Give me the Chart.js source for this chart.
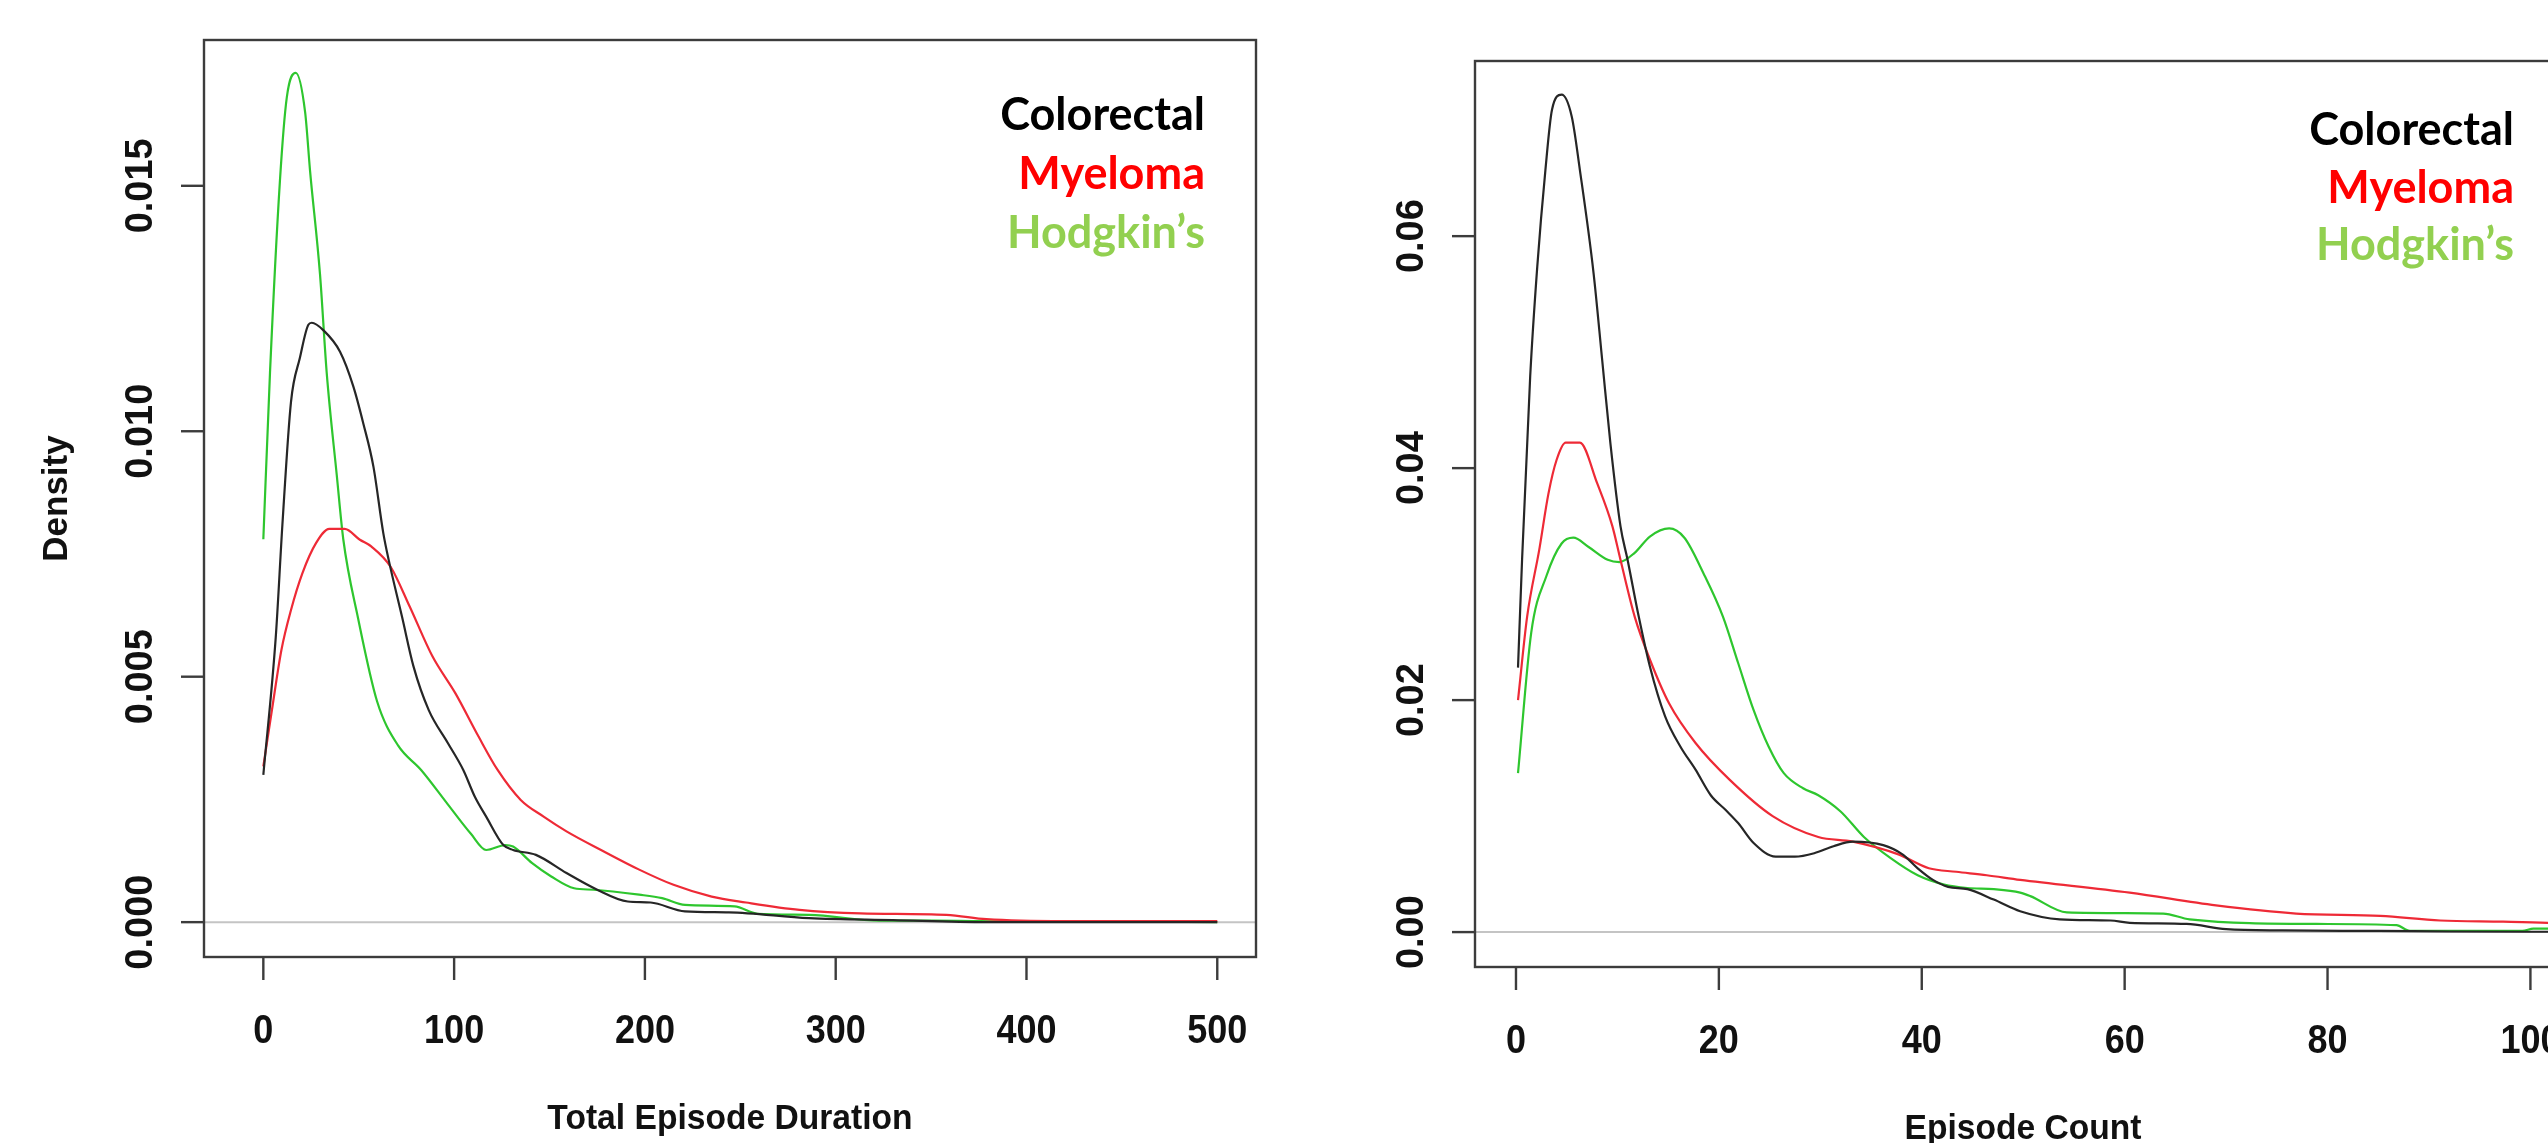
<!DOCTYPE html>
<html>
<head>
<meta charset="utf-8">
<script src="https://cdn.jsdelivr.net/npm/chart.js@4/dist/chart.umd.min.js"></script>
<style>
  html, body { margin: 0; padding: 0; background: #fff; overflow: hidden; }
  body { width: 2548px; height: 1143px; position: relative; }
  canvas { position: absolute; top: 0; }
  #grafico-duracao { left: 0; }
  #grafico-contagem { left: 1300px; }
</style>
</head>
<body>
<canvas id="grafico-duracao" width="1300" height="1143"></canvas>
<canvas id="grafico-contagem" width="1300" height="1143"></canvas>
<script>
// nomes e cores das series
const seriesNames = ['Colorectal', 'Myeloma', 'Hodgkin\u2019s'];
const lineColors = ['#262626', '#ee2a36', '#2ec62e'];
const legendColors = ['#000000', '#ff0000', '#92d050'];

// painel esquerdo: Total Episode Duration
const durationTicksX = [0, 100, 200, 300, 400, 500];
const durationTicksY = [0, 0.005, 0.010, 0.015];
const durationTickLabelsY = ['0.000', '0.005', '0.010', '0.015'];

const durColorectalX = [0, 6.5, 10, 14.5, 19.2, 23.6, 25.4, 31.4, 40.2, 47.2, 52.4, 57.7, 62.9, 65.7, 72.7, 78.7, 86.7, 96.7, 104.8, 110.8, 116.8, 125.8, 130.9, 142.9, 158.9, 175, 191, 203, 221, 244, 286, 330, 379, 420, 460, 500];
const durColorectalY = [0.0030, 0.0058, 0.0081, 0.0106, 0.0115, 0.01217, 0.01221, 0.01206, 0.01162, 0.01091, 0.01016, 0.00928, 0.00792, 0.00738, 0.00622, 0.00521, 0.00432, 0.00365, 0.0031, 0.00256, 0.00215, 0.00157, 0.00147, 0.00137, 0.0010, 0.00066, 0.00042, 0.0004, 0.00022, 0.0002, 0.00008, 0.00004, 0.0, 0.0, 0.0, 0.0];

const durMyelomaX = [0, 4.5, 9.5, 14.5, 20.5, 27.6, 34.6, 42.6, 50.6, 56.7, 66.7, 76.7, 88.7, 100.7, 112.8, 122.8, 134.9, 146.9, 158.9, 177, 197, 215, 235, 253, 281, 313, 358, 379, 420, 460, 500];
const durMyelomaY = [0.00317, 0.00432, 0.00555, 0.00636, 0.00711, 0.00772, 0.00801, 0.00801, 0.00779, 0.00765, 0.00724, 0.00643, 0.00541, 0.00466, 0.00378, 0.0031, 0.00249, 0.00215, 0.00185, 0.00147, 0.00107, 0.00076, 0.00052, 0.0004, 0.00025, 0.00018, 0.00015, 0.00006, 0.00002, 0.00002, 0.00002];

const durHodgkinX = [0, 3.5, 8.7, 12.3, 17, 21.9, 24.5, 29.7, 33.2, 38.5, 41.9, 49.6, 59.6, 70.6, 82.7, 96.7, 108.8, 116.8, 126.8, 130.9, 140.9, 150.9, 162.9, 173, 197, 209, 221, 247, 259, 286, 323, 351, 400, 450, 500];
const durHodgkinY = [0.0078, 0.0112, 0.0151, 0.0168, 0.0173, 0.0165, 0.0153, 0.0132, 0.0112, 0.0091, 0.0078, 0.0062, 0.0045, 0.0036, 0.0031, 0.0024, 0.0018, 0.00147, 0.00157, 0.00154, 0.0012, 0.00093, 0.00069, 0.00066, 0.00056, 0.00049, 0.00035, 0.00032, 0.00017, 0.00015, 0.00003, 0.00003, 0.00001, 0.00001, 0.0];

// painel direito: Episode Count
const countTicksX = [0, 20, 40, 60, 80, 100];
const countTicksY = [0, 0.02, 0.04, 0.06];
const countTickLabelsY = ['0.00', '0.02', '0.04', '0.06'];

const cntColorectalX = [0.2, 0.6, 1.4, 2.1, 2.9, 3.55, 4.5, 5.5, 6.3, 7.65, 8.5, 9.3, 10.3, 11, 12.1, 13.2, 14.7, 16.2, 17.7, 19.2, 20.7, 21.9, 23.4, 25.6, 27.5, 29.4, 31.3, 33.2, 36.2, 38.1, 39.6, 41.1, 42.6, 44.5, 47.1, 49.7, 53.6, 58.6, 60.5, 66.1, 70, 75.6, 85, 92, 100, 104];
const cntColorectalY = [0.0228, 0.0321, 0.0479, 0.0574, 0.0657, 0.0709, 0.0722, 0.0703, 0.0657, 0.0568, 0.0493, 0.0422, 0.0350, 0.0321, 0.0272, 0.0229, 0.0186, 0.0160, 0.0140, 0.0118, 0.0105, 0.0094, 0.0077, 0.0065, 0.0065, 0.0068, 0.0074, 0.0078, 0.0075, 0.0067, 0.0055, 0.0045, 0.0039, 0.0037, 0.0028, 0.0018, 0.0011, 0.0010, 0.0008, 0.0007, 0.00026, 0.00014, 0.0001, 0.00005, 0.00003, 0.00003];

const cntMyelomaX = [0.2, 1.1, 2.3, 3.2, 4.0, 4.9, 6.3, 8.0, 9.5, 10.3, 11.7, 13.2, 15.1, 17.7, 21.1, 25.3, 29.8, 33.2, 37.7, 40.7, 43.4, 46.4, 49.7, 60.5, 69, 76.9, 85.2, 91.1, 97.3, 101.7, 104];
const cntMyelomaY = [0.0200, 0.0272, 0.0330, 0.0378, 0.0407, 0.0422, 0.0422, 0.0387, 0.0350, 0.0321, 0.0272, 0.0235, 0.0197, 0.0163, 0.0131, 0.0100, 0.0082, 0.0078, 0.0067, 0.0055, 0.0052, 0.0049, 0.0045, 0.0034, 0.0023, 0.0016, 0.0014, 0.0010, 0.0009, 0.0008, 0.0007];

const cntHodgkinX = [0.2, 1.5, 3.0, 4.5, 5.65, 7.16, 9.04, 10.2, 11.7, 13.2, 15.1, 16.6, 18.5, 20.4, 21.9, 23.4, 24.9, 26.4, 28.3, 29.8, 32.0, 34.3, 36.9, 39.6, 42.2, 44.5, 47.1, 49.7, 50.7, 54.3, 63.8, 66.4, 78.9, 86.8, 88.1, 99.2, 100.3, 104];
const cntHodgkinY = [0.0137, 0.0258, 0.0307, 0.0335, 0.0340, 0.0332, 0.0321, 0.0319, 0.0327, 0.0341, 0.0348, 0.0340, 0.0309, 0.0272, 0.0232, 0.0192, 0.0160, 0.0137, 0.0124, 0.0118, 0.0104, 0.0082, 0.0064, 0.0049, 0.0041, 0.0038, 0.0037, 0.0034, 0.0031, 0.0017, 0.0016, 0.0011, 0.0007, 0.0006, 0.0001, 0.0001, 0.0003, 0.0003];

const fonteTickX = 'bold 40px "Liberation Sans", Arial, sans-serif';
const fonteTickY = 'bold 38px "Liberation Sans", Arial, sans-serif';
const fonteTitulo = 'bold 35px "Liberation Sans", Arial, sans-serif';
const fonteLegenda = 'bold 45px Lato, "Open Sans", sans-serif';

function toPoints(xs, ys) {
  return xs.map((x, i) => ({ x: x, y: ys[i] }));
}

function retornaDatasets(pares) {
  return pares.map((par, index) => ({
    label: seriesNames[index],
    data: toPoints(par[0], par[1]),
    borderColor: lineColors[index],
    backgroundColor: lineColors[index],
    borderWidth: 2.2,
    pointRadius: 0,
    fill: false,
    cubicInterpolationMode: 'monotone',
  }));
}

// texto um pouco comprimido na horizontal, como na figura original
function textoComprimido(ctx, texto, x, y, escala) {
  ctx.save();
  ctx.translate(x, y);
  ctx.scale(escala, 1);
  ctx.fillText(texto, 0, 0);
  ctx.restore();
}

// eixos no estilo do R: caixa, marcas para fora, rotulos girados no eixo y
function eixosR(cfg) {
  return {
    id: 'eixosR',
    beforeDatasetsDraw(chart) {
      const ctx = chart.ctx;
      const area = chart.chartArea;
      const y0 = chart.scales.y.getPixelForValue(0);
      ctx.save();
      ctx.strokeStyle = '#c4c4c4';
      ctx.lineWidth = 2;
      ctx.beginPath();
      ctx.moveTo(area.left, y0);
      ctx.lineTo(area.right, y0);
      ctx.stroke();
      ctx.restore();
    },
    afterDatasetsDraw(chart) {
      const ctx = chart.ctx;
      const area = chart.chartArea;
      const sx = chart.scales.x;
      const sy = chart.scales.y;
      ctx.save();

      ctx.strokeStyle = '#3c3c3c';
      ctx.lineWidth = 2.4;
      ctx.strokeRect(area.left, area.top, area.right - area.left, area.bottom - area.top);

      ctx.fillStyle = '#111';
      ctx.textAlign = 'center';
      ctx.textBaseline = 'middle';

      ctx.font = fonteTickX;
      cfg.ticksX.forEach((v) => {
        const px = sx.getPixelForValue(v);
        ctx.beginPath();
        ctx.moveTo(px, area.bottom);
        ctx.lineTo(px, area.bottom + 23);
        ctx.stroke();
        textoComprimido(ctx, String(v), px, area.bottom + 75, 0.9);
      });

      ctx.font = fonteTickY;
      cfg.ticksY.forEach((v, i) => {
        const py = sy.getPixelForValue(v);
        ctx.beginPath();
        ctx.moveTo(area.left, py);
        ctx.lineTo(area.left - 23, py);
        ctx.stroke();
        ctx.save();
        ctx.translate(area.left - 62, py);
        ctx.rotate(-Math.PI / 2);
        ctx.fillText(cfg.labelsY[i], 0, 0);
        ctx.restore();
      });

      ctx.font = fonteTitulo;
      textoComprimido(ctx, cfg.tituloX, (area.left + area.right) / 2, area.bottom + 162, 0.96);
      if (cfg.tituloY) {
        ctx.save();
        ctx.translate(57, (area.top + area.bottom) / 2);
        ctx.rotate(-Math.PI / 2);
        ctx.fillText(cfg.tituloY, 0, 0);
        ctx.restore();
      }

      ctx.font = fonteLegenda;
      ctx.textAlign = 'right';
      ctx.textBaseline = 'alphabetic';
      seriesNames.forEach((nome, i) => {
        ctx.fillStyle = legendColors[i];
        ctx.fillText(nome, cfg.legendaX, cfg.legendaY + i * cfg.legendaPasso);
      });

      ctx.restore();
    },
  };
}

function carregarGrafico(id, pares, escalas, padding, cfgEixos) {
  const config = {
    type: 'line',
    data: { datasets: retornaDatasets(pares) },
    options: {
      responsive: false,
      devicePixelRatio: 1,
      animation: false,
      layout: { padding: padding },
      scales: {
        x: { type: 'linear', min: escalas.xMin, max: escalas.xMax, display: false },
        y: { type: 'linear', min: escalas.yMin, max: escalas.yMax, display: false },
      },
      plugins: {
        legend: { display: false },
        tooltip: { enabled: false },
      },
    },
    plugins: [eixosR(cfgEixos)],
  };
  return new Chart(document.getElementById(id).getContext('2d'), config);
}

carregarGrafico(
  'grafico-duracao',
  [[durColorectalX, durColorectalY], [durMyelomaX, durMyelomaY], [durHodgkinX, durHodgkinY]],
  { xMin: -31.1, xMax: 520.3, yMin: -0.00071, yMax: 0.01797 },
  { left: 204, right: 44, top: 40, bottom: 186 },
  {
    ticksX: durationTicksX,
    ticksY: durationTicksY,
    labelsY: durationTickLabelsY,
    tituloX: 'Total Episode Duration',
    tituloY: 'Density',
    legendaX: 1205,
    legendaY: 130,
    legendaPasso: 59,
  }
);

carregarGrafico(
  'grafico-contagem',
  [[cntColorectalX, cntColorectalY], [cntMyelomaX, cntMyelomaY], [cntHodgkinX, cntHodgkinY]],
  { xMin: -4.04, xMax: 104.0, yMin: -0.00301, yMax: 0.0751 },
  { left: 175, right: 29, top: 61, bottom: 176 },
  {
    ticksX: countTicksX,
    ticksY: countTicksY,
    labelsY: countTickLabelsY,
    tituloX: 'Episode Count',
    tituloY: null,
    legendaX: 1214,
    legendaY: 145,
    legendaPasso: 57.5,
  }
);
</script>
</body>
</html>
